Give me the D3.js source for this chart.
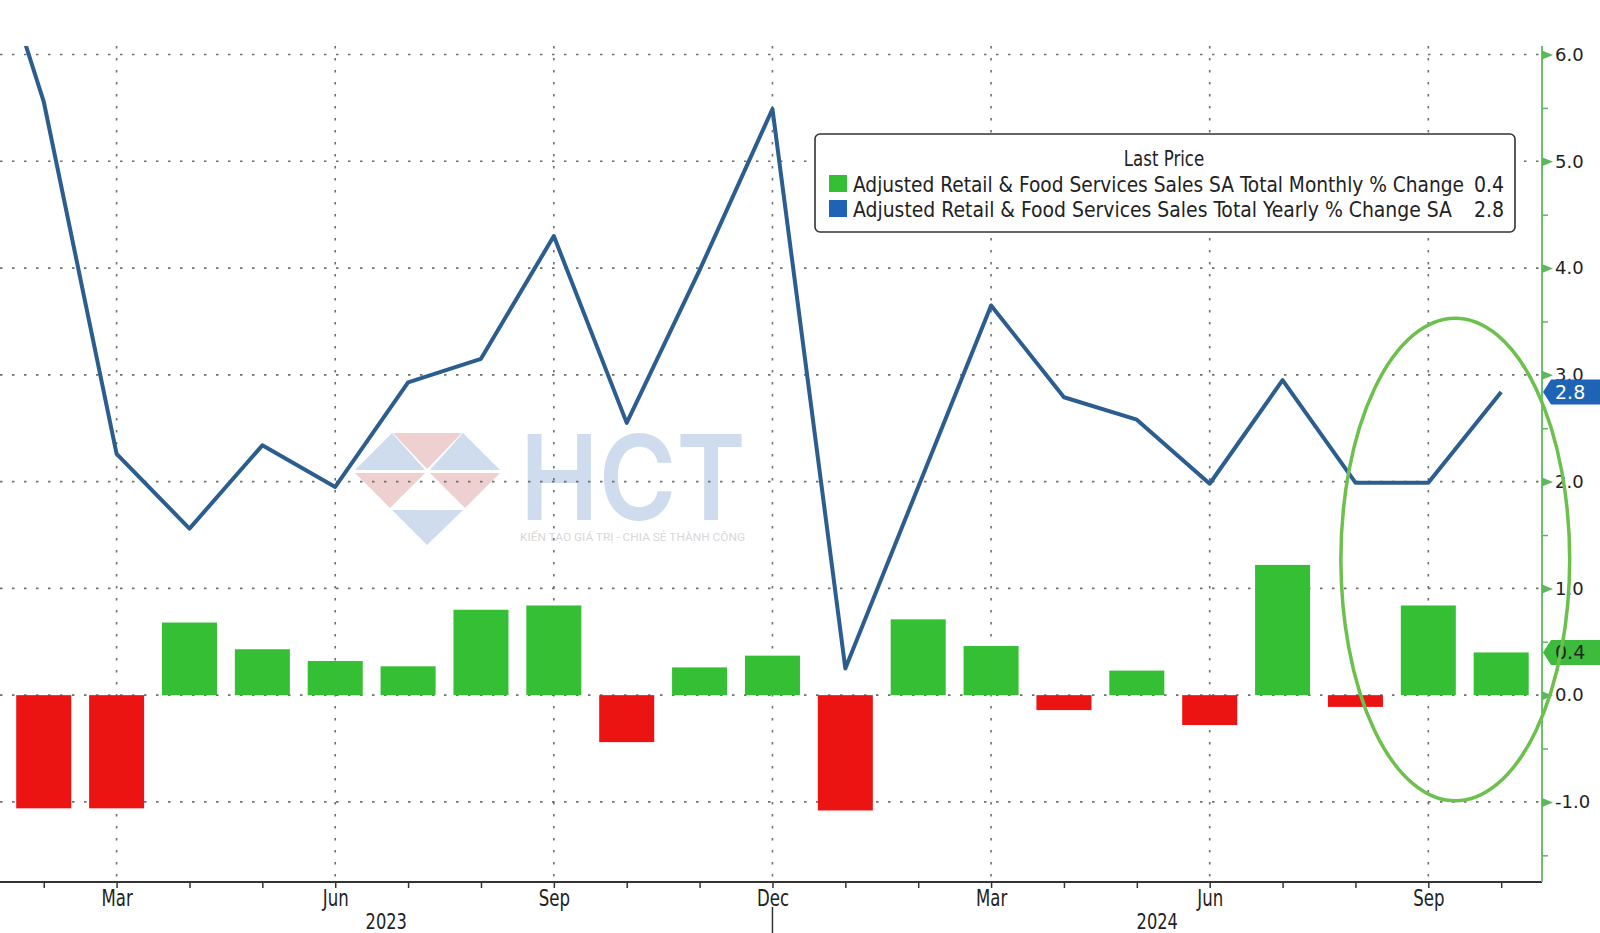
<!DOCTYPE html>
<html>
<head>
<meta charset="utf-8">
<script src="https://cdn.jsdelivr.net/npm/d3@7"></script>
<style>
  html, body { margin: 0; padding: 0; background: #ffffff; }
  svg { display: block; }
</style>
</head>
<body>
<svg id="chart" width="1600" height="933"></svg>
<script>
// ---------------- DATA ----------------
const monthNames = ["Jan","Feb","Mar","Apr","May","Jun","Jul","Aug","Sep","Oct","Nov","Dec",
                    "Jan","Feb","Mar","Apr","May","Jun","Jul","Aug","Sep","Oct"];
const monthYears = [2023,2023,2023,2023,2023,2023,2023,2023,2023,2023,2023,2023,
                    2024,2024,2024,2024,2024,2024,2024,2024,2024,2024];
// Adjusted Retail & Food Services Sales Total Yearly % Change SA (blue line)
const yearlyChange = [7.7, 5.56, 2.26, 1.56, 2.34, 1.95, 2.93, 3.15, 4.30, 2.55, 3.98, 5.49,
                      0.25, 1.95, 3.65, 2.79, 2.58, 1.98, 2.95, 1.99, 1.99, 2.84];
// Adjusted Retail & Food Services Sales SA Total Monthly % Change (bars)
const monthlyChange = [null, -1.06, -1.06, 0.68, 0.43, 0.32, 0.27, 0.80, 0.84, -0.44, 0.26, 0.37,
                       -1.08, 0.71, 0.46, -0.14, 0.23, -0.28, 1.22, -0.11, 0.84, 0.40];
const yTickValues = [-1, 0, 1, 2, 3, 4, 5, 6];
const yMinorValues = [-1.5, -0.5, 0.5, 1.5, 2.5, 3.5, 4.5, 5.5];
const labeledMonths = ["Mar", "Jun", "Sep", "Dec"];
const legendTitle = "Last Price";
const seriesNames = ["Adjusted Retail & Food Services Sales SA Total Monthly % Change",
                     "Adjusted Retail & Food Services Sales Total Yearly % Change SA"];
// annotation ellipse (in data units: month index / value)
const highlight = { month: 20.37, value: 1.27, monthRadius: 1.57, valueRadius: 2.26 };

// ---------------- STYLE ----------------
const COL_BLUE = "#2c5d8f", COL_BLUE_BOX = "#1f64b4";
const COL_GREEN = "#35bf35", COL_RED = "#ec1313";
const COL_AXIS_G = "#5cb85c", COL_ELLIPSE = "#6cc04c";
const narrow = "'Liberation Sans Narrow','Arial Narrow','DejaVu Sans Condensed',sans-serif";

const svg = d3.select("#chart");
const W = 1600, H = 933;
const P = { left: 0, right: 1542, top: 46, bottom: 882 };

const x = d3.scaleLinear().domain([0.4, 21.56]).range([P.left, P.right]);
const y = d3.scaleLinear().domain([-1.75, 6.08]).range([P.bottom, P.top]);
const step = x(1) - x(0);
const barW = step * 0.755;

function condense(sel, k) {
  sel.each(function () {
    const L = this.getComputedTextLength();
    if (L > 0) d3.select(this).attr("textLength", L * k).attr("lengthAdjust", "spacingAndGlyphs");
  });
}

svg.append("rect").attr("width", W).attr("height", H).attr("fill", "#fff");

svg.append("defs").append("clipPath").attr("id", "plotclip")
  .append("rect").attr("x", P.left).attr("y", P.top)
  .attr("width", P.right - P.left).attr("height", P.bottom - P.top);

// ---------------- WATERMARK ----------------
const wm = svg.append("g").attr("opacity", 0.9);
const tri = [
  { p: [[355,470],[392,433],[425,470]], c: "#c9d9ec" },
  { p: [[393,433],[462,433],[427,469]], c: "#eecbcb" },
  { p: [[463,433],[500,470],[430,470]], c: "#c9d9ec" },
  { p: [[355,473],[425,473],[390,508]], c: "#eecbcb" },
  { p: [[430,473],[500,473],[465,508]], c: "#eecbcb" },
  { p: [[392,510],[463,510],[427,545]], c: "#c9d9ec" }
];
wm.selectAll("polygon").data(tri).join("polygon")
  .attr("points", d => d.p.map(q => q.join(",")).join(" "))
  .attr("fill", d => d.c);
wm.append("text").attr("x", 520).attr("y", 520).text("HCT")
  .attr("font-family", "Inter, 'DejaVu Sans', sans-serif").attr("font-weight", 600)
  .attr("font-size", 118).attr("fill", "#c9d9ec")
  .attr("textLength", 226).attr("lengthAdjust", "spacingAndGlyphs");
wm.append("text").attr("x", 520).attr("y", 541).text("KIẾN TẠO GIÁ TRỊ - CHIA SẺ THÀNH CÔNG")
  .attr("font-family", "Roboto, sans-serif").attr("font-size", 11).attr("fill", "#d4d4d4")
  .attr("textLength", 225).attr("lengthAdjust", "spacingAndGlyphs");

// ---------------- GRID ----------------
const grid = svg.append("g");
grid.selectAll("line.h").data(yTickValues).join("line").attr("class", "h")
  .attr("x1", P.left).attr("x2", P.right)
  .attr("y1", d => y(d)).attr("y2", d => y(d))
  .attr("stroke", "#6f6f6f").attr("stroke-width", 1.6).attr("stroke-dasharray", "2.5,9.5");
const quarterIdx = d3.range(monthNames.length).filter(i => labeledMonths.includes(monthNames[i]));
grid.selectAll("line.v").data(quarterIdx).join("line").attr("class", "v")
  .attr("x1", d => x(d)).attr("x2", d => x(d))
  .attr("y1", P.top).attr("y2", P.bottom)
  .attr("stroke", "#6f6f6f").attr("stroke-width", 1.6).attr("stroke-dasharray", "2.5,9.5");

// ---------------- BARS ----------------
const plotG = svg.append("g").attr("clip-path", "url(#plotclip)");
const barData = monthlyChange.map((v, i) => ({ i, v })).filter(d => d.v !== null);
plotG.selectAll("rect.bar").data(barData).join("rect").attr("class", "bar")
  .attr("x", d => x(d.i) - barW / 2).attr("width", barW)
  .attr("y", d => y(Math.max(0, d.v)))
  .attr("height", d => Math.abs(y(d.v) - y(0)))
  .attr("fill", d => d.v >= 0 ? COL_GREEN : COL_RED);

// ---------------- LINE ----------------
const line = d3.line().x((d, i) => x(i)).y(d => y(d));
plotG.append("path").datum(yearlyChange)
  .attr("d", line).attr("fill", "none")
  .attr("stroke", COL_BLUE).attr("stroke-width", 4).attr("stroke-linejoin", "round");

// ---------------- X AXIS ----------------
const xAxis = d3.axisBottom(x)
  .tickValues(d3.range(1, monthNames.length))
  .tickSize(6).tickPadding(1)
  .tickFormat(i => labeledMonths.includes(monthNames[i]) ? monthNames[i] : "");
const gx = svg.append("g").attr("transform", `translate(0,${P.bottom})`).call(xAxis);
gx.select(".domain").remove();
gx.selectAll(".tick line").attr("stroke", "#333").attr("stroke-width", 1.5);
gx.selectAll(".tick text").attr("font-family", narrow).attr("font-size", 23).attr("fill", "#222")
  .attr("dy", "0.76em");
condense(gx.selectAll(".tick text"), 0.8);
svg.append("line").attr("x1", P.left).attr("x2", P.right).attr("y1", P.bottom).attr("y2", P.bottom)
  .attr("stroke", "#333").attr("stroke-width", 1.8);

// year separators & year labels
const yearStarts = d3.range(1, monthNames.length).filter(i => monthYears[i] !== monthYears[i - 1]);
const sepIdx = yearStarts.map(i => i - 1);
svg.selectAll("line.ysep").data(sepIdx).join("line").attr("class", "ysep")
  .attr("x1", d => x(d)).attr("x2", d => x(d)).attr("y1", 907).attr("y2", H)
  .attr("stroke", "#333").attr("stroke-width", 1.5);
const years = Array.from(new Set(monthYears));
const bounds = [x.domain()[0], ...sepIdx, x.domain()[1]];
const yearText = svg.selectAll("text.year").data(years).join("text").attr("class", "year")
  .attr("x", (d, k) => x((bounds[k] + bounds[k + 1]) / 2))
  .attr("y", 929).attr("text-anchor", "middle")
  .attr("font-family", narrow).attr("font-size", 22).attr("fill", "#222")
  .text(d => d);
condense(yearText, 0.82);

// ---------------- Y AXIS (right) ----------------
svg.append("line").attr("x1", P.right).attr("x2", P.right).attr("y1", P.top).attr("y2", P.bottom)
  .attr("stroke", COL_AXIS_G).attr("stroke-width", 1.8);
const yMinor = d3.axisRight(y).tickValues(yMinorValues).tickSize(6).tickFormat("");
const gyMinor = svg.append("g").attr("transform", `translate(${P.right},0)`).call(yMinor);
gyMinor.select(".domain").remove();
gyMinor.selectAll(".tick line").attr("stroke", COL_AXIS_G).attr("stroke-width", 1.5);

const yAxis = d3.axisRight(y).tickValues(yTickValues).tickSize(0).tickPadding(13)
  .tickFormat(d => d.toFixed(1));
const gy = svg.append("g").attr("transform", `translate(${P.right},0)`).call(yAxis);
gy.select(".domain").remove();
gy.selectAll(".tick").append("path").attr("d", "M0,-4.5 L11,0 L0,4.5 Z").attr("fill", COL_AXIS_G);
gy.selectAll(".tick text").attr("font-family", "'DejaVu Sans', sans-serif")
  .attr("font-size", 18).attr("fill", "#222").attr("x", 13);

// value tags
const lastI = monthNames.length - 1;
const tags = [
  { v: yearlyChange[lastI], fill: COL_BLUE_BOX, text: "#ffffff" },
  { v: monthlyChange[lastI], fill: "#3dbb3d", text: "#1e2a1e" }
];
const tagG = svg.selectAll("g.tag").data(tags).join("g").attr("class", "tag")
  .attr("transform", d => `translate(${P.right},${y(d.v)})`);
tagG.append("path").attr("d", "M1,0 L9,-12.5 L60,-12.5 L60,12.5 L9,12.5 Z").attr("fill", d => d.fill);
tagG.append("text").attr("x", 13).attr("y", 0).attr("dy", "0.36em")
  .attr("font-family", "'DejaVu Sans', sans-serif").attr("font-size", 19)
  .attr("fill", d => d.text).text(d => d.v.toFixed(1));

// ---------------- LEGEND ----------------
const lg = svg.append("g");
lg.append("rect").attr("x", 815).attr("y", 134).attr("width", 700).attr("height", 98)
  .attr("rx", 5).attr("fill", "#fff").attr("stroke", "#333").attr("stroke-width", 1.6);
const lt = lg.append("text").attr("x", 1164).attr("y", 166).attr("text-anchor", "middle")
  .attr("font-family", narrow).attr("font-size", 21).attr("fill", "#222").text(legendTitle);
condense(lt, 0.88);
const legendRows = [
  { name: seriesNames[0], color: COL_GREEN, value: monthlyChange[lastI], len: 611 },
  { name: seriesNames[1], color: COL_BLUE_BOX, value: yearlyChange[lastI], len: 599 }
];
const rows = lg.selectAll("g.row").data(legendRows).join("g").attr("class", "row")
  .attr("transform", (d, k) => `translate(0,${192 + k * 25})`);
rows.append("rect").attr("x", 829).attr("y", -17).attr("width", 18).attr("height", 17)
  .attr("fill", d => d.color);
rows.append("text").attr("x", 853).attr("y", 0)
  .attr("font-family", narrow).attr("font-size", 21).attr("fill", "#222")
  .attr("textLength", d => d.len).attr("lengthAdjust", "spacingAndGlyphs")
  .text(d => d.name);
rows.append("text").attr("x", 1504).attr("y", 0).attr("text-anchor", "end")
  .attr("font-family", narrow).attr("font-size", 21).attr("fill", "#222")
  .text(d => d.value.toFixed(1));

// ---------------- ANNOTATION ----------------
svg.append("ellipse")
  .attr("cx", x(highlight.month)).attr("cy", y(highlight.value))
  .attr("rx", x(highlight.month + highlight.monthRadius) - x(highlight.month))
  .attr("ry", y(highlight.value) - y(highlight.value + highlight.valueRadius))
  .attr("fill", "none").attr("stroke", COL_ELLIPSE).attr("stroke-width", 3.5);
</script>
</body>
</html>
